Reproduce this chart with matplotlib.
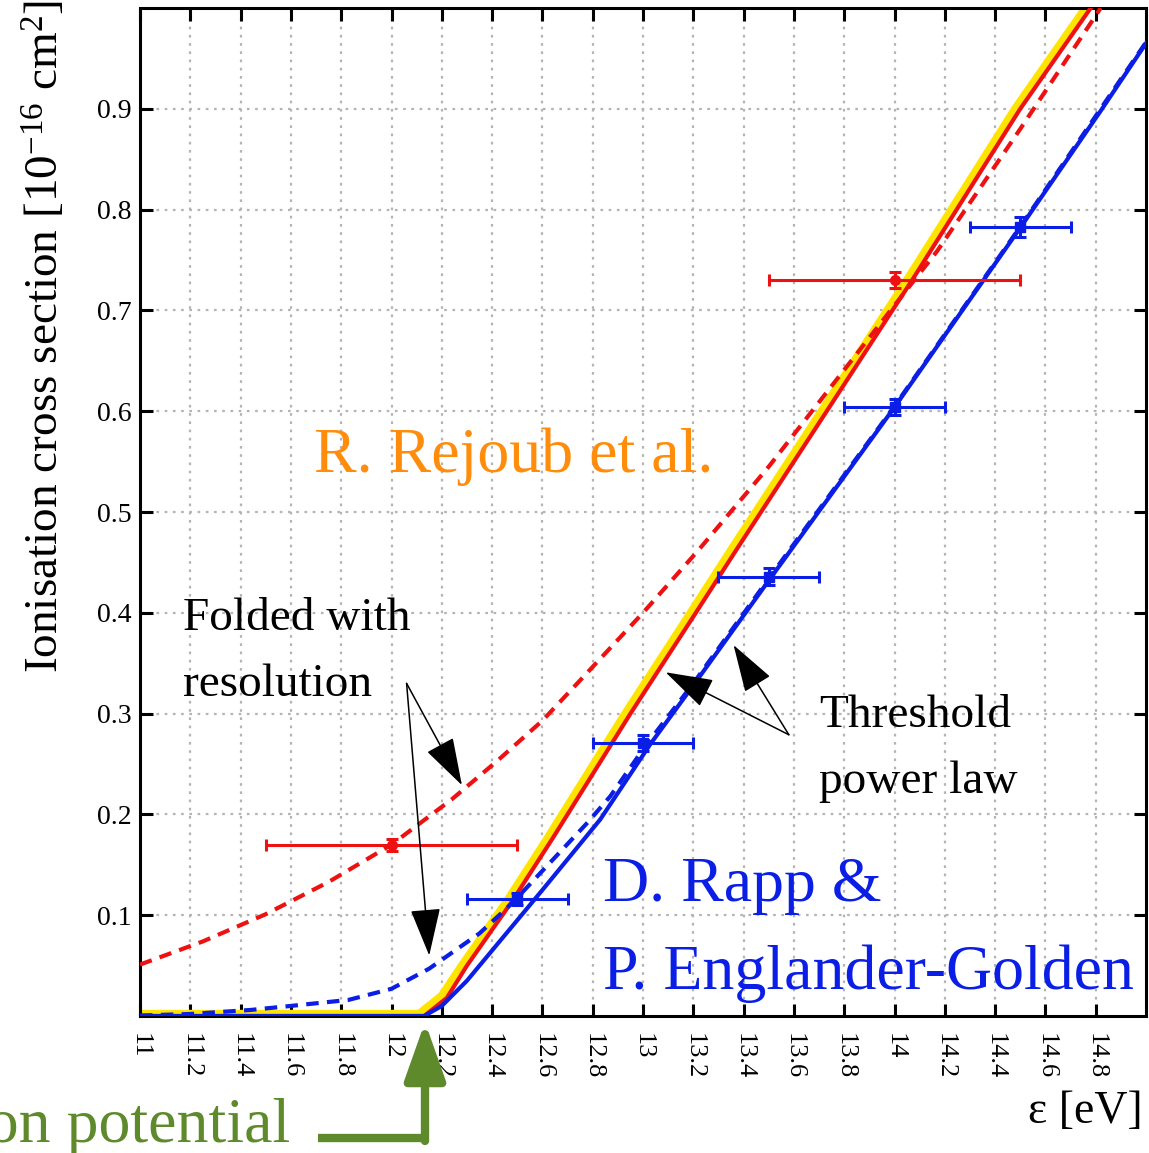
import matplotlib
matplotlib.use("Agg")
import matplotlib.pyplot as plt
from matplotlib.patches import FancyArrowPatch
from matplotlib.lines import Line2D

plt.rcParams["font.family"] = ["Liberation Serif", "DejaVu Serif"]
plt.rcParams["mathtext.fontset"] = "custom"
plt.rcParams["mathtext.rm"] = "Liberation Serif"
plt.rcParams["mathtext.it"] = "Liberation Serif:italic"

# Threshold power law curves [eV, 1e-16 cm^2]
rejoub_e = [11.0, 12.13, 12.22, 12.30, 12.48, 12.64, 12.76, 12.95, 13.21, 13.37, 14.07, 14.50, 14.78]
rejoub_s = [0.0, 0.0, 0.018, 0.05, 0.114, 0.176, 0.224, 0.30, 0.40, 0.462, 0.73, 0.90, 1.0]
fit_e = [11.0, 12.11, 12.20, 12.28, 12.46, 12.62, 12.74, 12.93, 13.19, 13.35, 14.05, 14.48, 14.76]
fit_s = [0.002, 0.002, 0.02, 0.05, 0.114, 0.176, 0.224, 0.30, 0.40, 0.462, 0.73, 0.90, 1.0]
rapp_e = [11.0, 12.13, 12.20, 12.30, 12.45, 12.60, 12.83, 13.03, 13.20, 13.50, 14.0, 14.5, 14.82, 15.0]
rapp_s = [0.0, 0.0, 0.010, 0.035, 0.080, 0.125, 0.195, 0.270, 0.328, 0.432, 0.604, 0.782, 0.898, 0.965]

# Same curves folded with the energy resolution
rejoub_fold_e = [11.0, 11.25, 11.5, 11.75, 12.0, 12.24, 12.42, 12.6, 12.75, 13.0, 13.22, 13.5, 13.75, 14.0, 14.17, 14.5, 14.82]
rejoub_fold_s = [0.051, 0.074, 0.101, 0.133, 0.170, 0.215, 0.253, 0.293, 0.333, 0.400, 0.462, 0.545, 0.625, 0.705, 0.759, 0.88, 1.0]
rapp_fold_e = [11.0, 11.2, 11.44, 11.6, 11.83, 12.0, 12.15, 12.35, 12.48, 12.66, 12.78, 12.87, 13.01, 13.2, 13.5, 14.0, 14.5, 15.0]
rapp_fold_s = [0.0005, 0.002, 0.006, 0.010, 0.016, 0.027, 0.047, 0.082, 0.112, 0.160, 0.192, 0.218, 0.268, 0.330, 0.434, 0.605, 0.783, 0.966]

# Measurements
rejoub_pts_e = [12.0, 14.0]
rejoub_pts_s = [0.170, 0.730]
rejoub_pts_xerr = [0.5, 0.5]
rejoub_pts_yerr = [0.006, 0.008]
rapp_pts_e = [12.5, 13.0, 13.5, 14.0, 14.5]
rapp_pts_s = [0.116, 0.271, 0.436, 0.604, 0.783]
rapp_pts_xerr = [0.2, 0.2, 0.2, 0.2, 0.2]
rapp_pts_yerr = [0.006, 0.008, 0.008, 0.008, 0.01]

xticks = [11 + 0.2 * i for i in range(20)]
xticklabels = ["11", "11.2", "11.4", "11.6", "11.8", "12", "12.2", "12.4", "12.6", "12.8",
               "13", "13.2", "13.4", "13.6", "13.8", "14", "14.2", "14.4", "14.6", "14.8"]
yticks = [0.1, 0.2, 0.3, 0.4, 0.5, 0.6, 0.7, 0.8, 0.9]
yticklabels = ["0.1", "0.2", "0.3", "0.4", "0.5", "0.6", "0.7", "0.8", "0.9"]

W, H = 1149, 1153
fig = plt.figure(figsize=(W / 100, H / 100), dpi=100)
ax = fig.add_axes([140 / W, (H - 1016) / H, 1006 / W, 1008 / H])


def fpx(x, y):
    # pixel position (from top-left) -> figure fraction
    return x / W, 1 - y / H


GREEN = "#5e8a2c"
ORANGE = "#ff8c0a"
RED = "#ee1111"
BLUE = "#0a1ee6"

ax.plot(fit_e, fit_s, color="#ffe400", lw=6, solid_capstyle="butt", zorder=2)
ax.plot(rejoub_e, rejoub_s, color=RED, lw=3, zorder=3)
ax.plot(rejoub_fold_e, rejoub_fold_s, color=RED, lw=3, ls=(0, (3, 2)), zorder=4)
ax.plot(rapp_fold_e, rapp_fold_s, color=BLUE, lw=3, ls=(0, (3, 2)), zorder=3)
ax.plot(rapp_e, rapp_s, color=BLUE, lw=3, zorder=4)

ax.errorbar(rejoub_pts_e, rejoub_pts_s, xerr=rejoub_pts_xerr, yerr=rejoub_pts_yerr,
            fmt="o", color=RED, ms=7, elinewidth=2.2, capsize=4, capthick=2.2, zorder=5)
ax.errorbar(rapp_pts_e, rapp_pts_s, xerr=rapp_pts_xerr, yerr=rapp_pts_yerr,
            fmt="s", color=BLUE, ms=7, elinewidth=2.2, capsize=4, capthick=2.2, zorder=5)

ax.set_xlim(11, 15)
ax.set_ylim(0, 1.0)
ax.set_xticks(xticks)
ax.set_xticklabels(xticklabels, rotation=-90, fontsize=19)
ax.set_yticks(yticks)
ax.set_yticklabels(yticklabels, fontsize=20)
ax.tick_params(direction="in", length=9, width=2.2, top=True, right=True)
ax.tick_params(axis="x", pad=12)
ax.tick_params(axis="y", pad=6)
ax.grid(True, color="#b4b4b4", lw=1.6, ls=(0, (1.2, 2.5)))
for s in ax.spines.values():
    s.set_linewidth(2.2)
ax.spines["left"].set_linestyle((0, (1.5, 1)))

# annotations
ax.text(11.69, 0.54, "R. Rejoub et al.", color=ORANGE, fontsize=46)
ax.text(12.84, 0.114, "D. Rapp &", color=BLUE, fontsize=46)
ax.text(12.84, 0.027, "P. Englander-Golden", color=BLUE, fontsize=46)
ax.text(11.17, 0.383, "Folded with", fontsize=34)
ax.text(11.17, 0.317, "resolution", fontsize=34)
ax.text(13.70, 0.287, "Threshold", fontsize=34)
ax.text(13.70, 0.221, "power law", fontsize=34)

arrow_kw = dict(arrowstyle="-|>,head_length=1.9,head_width=0.6", color="black",
                lw=1.1, mutation_scale=16, shrinkA=0, shrinkB=0, zorder=6)
for tip in [(12.28, 0.229), (12.15, 0.060)]:
    ax.add_patch(FancyArrowPatch((12.06, 0.330), tip, **arrow_kw))
for tip in [(13.09, 0.341), (13.36, 0.368)]:
    ax.add_patch(FancyArrowPatch((13.58, 0.279), tip, **arrow_kw))

fig.text(*fpx(45, 336), "Ionisation cross section [10$^{-16}$ cm$^{2}$]", rotation=90,
         ha="center", va="center", fontsize=34)
fig.text(*fpx(1143, 1123), "ε [eV]", ha="right", va="baseline", fontsize=33)
fig.text(*fpx(290, 1142), "Ionisation potential", ha="right", va="baseline",
         fontsize=46, color=GREEN)

# green marker for the ionisation potential
fig.add_artist(Line2D([318 / W, 425 / W], [1 - 1138 / H, 1 - 1138 / H],
                      color=GREEN, lw=6, solid_capstyle="butt"))
fig.add_artist(FancyArrowPatch(fpx(425, 1141), fpx(425, 1022), transform=fig.transFigure,
                               arrowstyle="-|>,head_length=1.75,head_width=0.62",
                               mutation_scale=20, lw=6, color=GREEN,
                               shrinkA=0, shrinkB=0))

fig.savefig("out.png", dpi=100)
